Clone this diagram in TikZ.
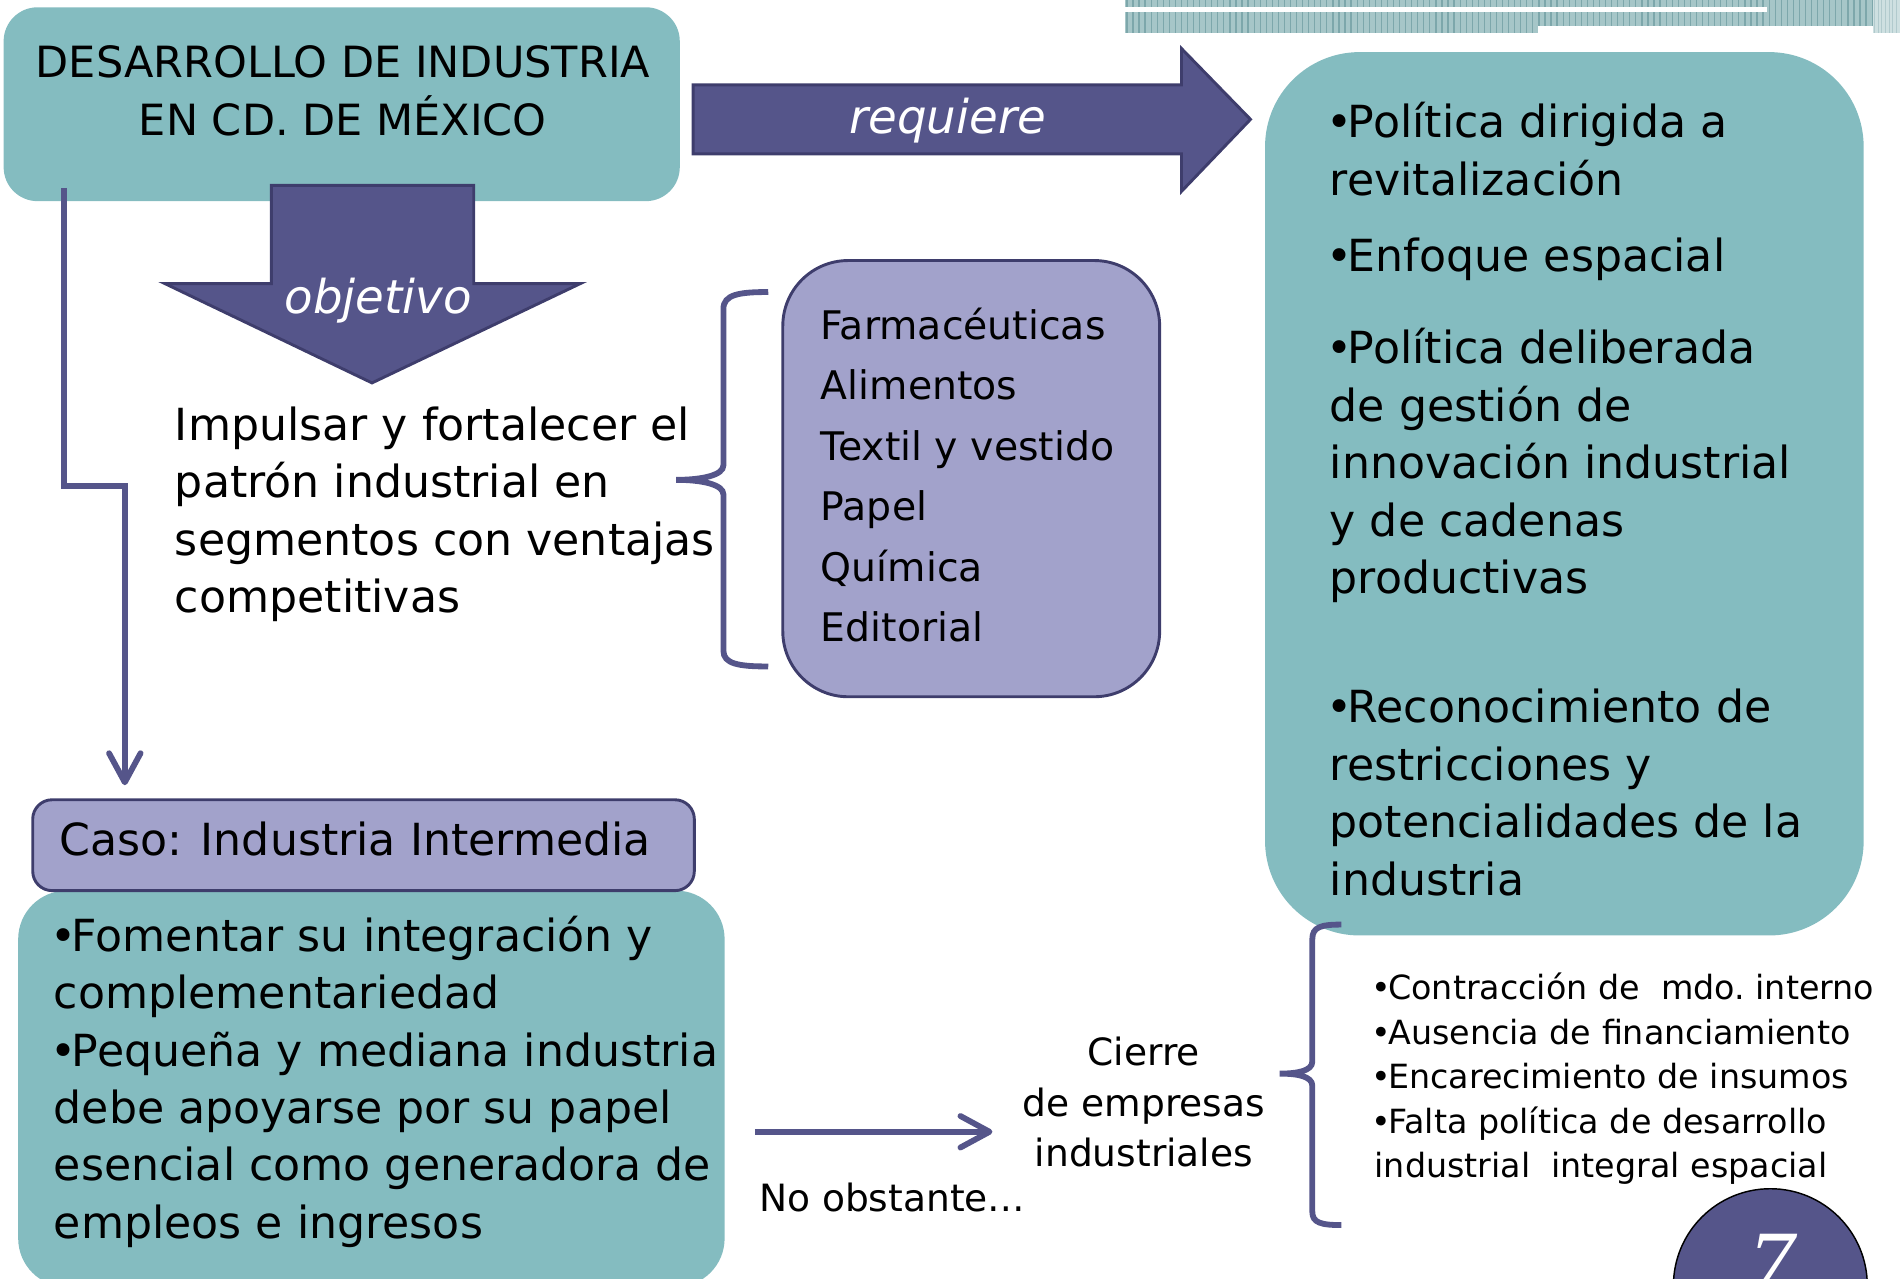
\documentclass[tikz,border=0pt]{standalone}
\usepackage{fontspec}
\setmainfont{DejaVu Sans}
\newfontfamily\pagefont{Liberation Serif}
\usetikzlibrary{arrows.meta,fit}
\definecolor{tealfill}{HTML}{84BCC0}
\definecolor{arrowfill}{HTML}{55558A}
\definecolor{arrowline}{HTML}{3E3D6C}
\definecolor{lilac}{HTML}{A2A2CB}
\definecolor{stripfill}{HTML}{A6C6C8}
\definecolor{stripline}{HTML}{7DA7AB}
\newcommand{\bul}{\kern-0.08em•\kern-0.1em}
\tikzset{>={Straight Barb[length=12pt,width=13pt,round]},
    tealbox/.style={fill=tealfill, inner sep=0pt},
    lilacbox/.style={fill=lilac, draw=arrowline, line width=1.2pt, inner sep=0pt},
    blockarrow/.style={fill=arrowfill, draw=arrowline, line width=1.2pt},
    link/.style={draw=arrowfill, line width=2.4pt},
    brace/.style={draw=arrowfill, line width=2.4pt},
    arrowtext/.style={text=white, inner sep=0pt, anchor=base, font=\fontsize{19.25}{23}\selectfont\itshape},
    bigtext/.style={inner sep=0pt, anchor=base west, align=left, font=\fontsize{18.25}{23.7}\selectfont},
    listtext/.style={inner sep=0pt, anchor=base west, font=\fontsize{16.25}{25}\selectfont},
    midtext/.style={inner sep=0pt, font=\fontsize{15.5}{21}\selectfont},
    smalltext/.style={inner sep=0pt, anchor=base west, align=left, font=\fontsize{13.75}{18.4}\selectfont}}

\begin{document}
\begin{tikzpicture}[x=0.5pt, y=-0.5pt]
    \useasboundingbox (0,0) rectangle (1568,1055);
    \fill[stripfill] (928,0) rectangle (1546,27);
    \foreach \x in {930,935,...,1545}
    \draw[stripline, line width=0.5pt] (\x,0) -- (\x,27);
    \fill[stripfill!55] (1546,0) rectangle (1568,27);
    \foreach \x in {1547,1550,...,1568}
    \draw[stripline!60, line width=0.4pt] (\x,0) -- (\x,27);
    \fill[white] (928,6) rectangle (1458,10);
    \fill[white] (1269,21.5) rectangle (1546,27);

    \node[tealbox, rounded corners=14pt, fit={(3,6) (561,166)}] (title) {};
    \node[bigtext, anchor=base, align=center, font=\fontsize{17.75}{23.75}\selectfont] (titletext) at (283,111.5) {DESARROLLO DE INDUSTRIA\\EN CD. DE MÉXICO};

    \draw[blockarrow] (572,70) -- (975,70) -- (975,40) -- (1032,98.5) -- (975,158) -- (975,127) -- (572,127) -- cycle;
    \node[arrowtext] (req) at (782,110) {requiere};
    \draw[blockarrow] (224,153) -- (391,153) -- (391,234) -- (479,234) -- (307,316) -- (136,234) -- (224,234) -- cycle;
    \node[arrowtext] (obj) at (312,258.6) {objetivo};

    \coordinate (fromTitle) at (53,155);
    \coordinate (toCaso) at (103,648);
    \draw[link, ->] (fromTitle) |- (103,401) -- (toCaso);

    \node[bigtext] (goal) at (144,505.6) {Impulsar y fortalecer el\\patrón industrial en\\segmentos con ventajas\\competitivas};
    \draw[brace] (634,241) .. controls (610,241) and (597,243) .. (597,255) -- (597,384) .. controls (597,392) and (580,396) .. (558,396) .. controls (580,396) and (597,400) .. (597,408) -- (597,537) .. controls (597,548) and (610,550) .. (634,550);

    \node[lilacbox, rounded corners=27pt, fit={(646,215) (957,575)}] (sectors) {};
    \foreach \s [count=\i from 0] in {Farmacéuticas, Alimentos, Textil y vestido, Papel, Química, Editorial}
    \node[listtext] (sec\i) at (677,{280+49.9*\i}) {\s};

    \node[tealbox, rounded corners=39pt, fit={(1044,43) (1538,772)}] (needs) {};
    \node[bigtext] (need1) at (1097,161) {\bul Política dirigida a\\revitalización};
    \node[bigtext] (need2) at (1097,224.3) {\bul Enfoque espacial};
    \node[bigtext] (need3) at (1097,489.9) {\bul Política deliberada\\de gestión de\\innovación industrial\\y de cadenas\\productivas};
    \node[bigtext] (need4) at (1097,738.6) {\bul Reconocimiento de\\restricciones y\\potencialidades de la\\industria};

    \node[tealbox, rounded corners=20pt, fit={(15,735) (598,1062)}] (actions) {};
    \node[lilacbox, rounded corners=8pt, fit={(27,660) (573,735)}] (caso) {};
    \node[bigtext, anchor=base] (casotext) at (293,706) {Caso: Industria Intermedia};
    \node[bigtext] (acttext) at (44,1022) {\bul Fomentar su integración y\\complementariedad\\\bul Pequeña y mediana industria\\debe apoyarse por su papel\\esencial como generadora de\\empleos e ingresos};

    \coordinate (fromActs) at (623,934);
    \coordinate (toCierre) at (819,934);
    \draw[link, ->] (fromActs) -- (toCierre);
    \node[midtext, anchor=base west] (nonetheless) at (626,1000) {No obstante…};
    \node[midtext, anchor=base, align=center] (closing) at (944,963) {Cierre\\de empresas\\industriales};

    \draw[brace] (1107,763) .. controls (1090,763) and (1083,765) .. (1083,775) -- (1083,876) .. controls (1083,884) and (1070,886) .. (1056,886) .. controls (1070,886) and (1083,888) .. (1083,896) -- (1083,1000) .. controls (1083,1009) and (1090,1011) .. (1107,1011);
    \node[smalltext] (causes) at (1134,972) {\bul Contracción de\ \ mdo.\ interno\\\bul Ausencia de financiamiento\\\bul Encarecimiento de insumos\\\bul Falta política de desarrollo\\industrial\ \ integral espacial};

    \node[circle, fill=arrowfill, draw=black, line width=0.6pt, minimum size=80pt, inner sep=0pt] (pagenum) at (1461,1061) {};
    \node[text=white, inner sep=0pt, anchor=base, font=\pagefont\itshape\fontsize{38}{38}\selectfont] (pagenumtext) at (1462,1068) {7};
\end{tikzpicture}
\end{document}
